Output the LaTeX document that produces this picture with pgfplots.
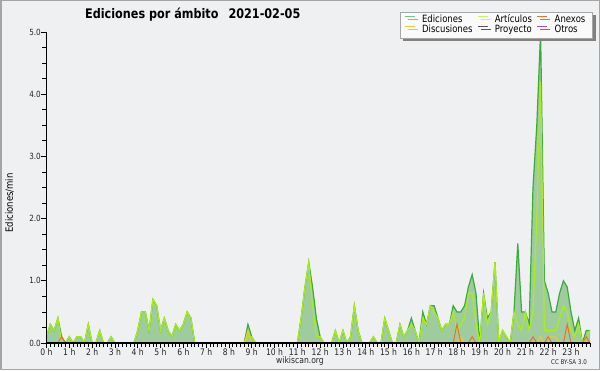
\documentclass[border=0pt]{standalone}
\usepackage{fontspec}
\setmainfont{DejaVu Sans}[FakeStretch=0.85]
\usepackage{pgfplots}
\pgfplotsset{compat=1.18}
\usepackage{pgfplotstable}
\usetikzlibrary{shadows}

\definecolor{bgc}{RGB}{239,240,242}
\definecolor{bordc}{RGB}{165,165,165}
\definecolor{gridc}{RGB}{200,200,200}
\definecolor{eline}{RGB}{60,170,60}
\definecolor{efill}{RGB}{158,204,158}
\definecolor{aline}{RGB}{170,238,20}
\definecolor{xline}{RGB}{240,110,40}
\definecolor{dline}{RGB}{245,200,40}
\definecolor{pline}{RGB}{90,90,90}
\definecolor{oline}{RGB}{150,80,230}
\definecolor{legE}{RGB}{120,200,120}
\definecolor{legA}{RGB}{200,240,100}

\pgfplotsset{
 layers/mylayers/.define layer set={axis background,axis grid,pre main,main,axis ticks,axis lines,axis tick labels,axis descriptions,axis foreground}{
   grid style={/pgfplots/on layer=axis grid},
   tick style={/pgfplots/on layer=axis ticks},
   axis line style={/pgfplots/on layer=axis lines},
   label style={/pgfplots/on layer=axis descriptions},
   legend style={/pgfplots/on layer=axis descriptions},
   title style={/pgfplots/on layer=axis descriptions},
   ticklabel style={/pgfplots/on layer=axis tick labels},
 },
}

\pgfplotstableread{
j E A X D
0 0.1 0.1 0 0
1 0.3 0.3 0 0
2 0.2 0.2 0 0
3 0.4 0.4 0 0
4 0.1 0.0 0.1 0
5 0 0 0 0
6 0.1 0.1 0 0
7 0 0 0 0
8 0.1 0.1 0 0
9 0.1 0.1 0 0
10 0 0 0 0
11 0.3 0.3 0 0
12 0 0 0 0
13 0 0 0 0
14 0.2 0.2 0 0
15 0 0 0 0
16 0 0 0 0
17 0.1 0.1 0 0
18 0 0 0 0
19 0 0 0 0
20 0 0 0 0
21 0 0 0 0
22 0 0 0 0
23 0 0 0 0
24 0.2 0.2 0 0
25 0.5 0.5 0 0
26 0.5 0.5 0 0
27 0.2 0.2 0 0
28 0.7 0.7 0 0
29 0.6 0.6 0 0
30 0.2 0.2 0 0
31 0.4 0.4 0 0
32 0.2 0.2 0 0
33 0.1 0.1 0 0
34 0.3 0.3 0 0
35 0.2 0.2 0 0
36 0.3 0.3 0 0
37 0.5 0.5 0 0
38 0.4 0.4 0 0
39 0 0 0 0
40 0 0 0 0
41 0 0 0 0
42 0 0 0 0
43 0 0 0 0
44 0 0 0 0
45 0 0 0 0
46 0 0 0 0
47 0 0 0 0
48 0 0 0 0
49 0 0 0 0
50 0 0 0 0
51 0 0 0 0
52 0 0 0 0
53 0.3 0.1 0 0.2
54 0.1 0.1 0 0
55 0 0 0 0
56 0 0 0 0
57 0 0 0 0
58 0 0 0 0
59 0 0 0 0
60 0 0 0 0
61 0 0 0 0
62 0 0 0 0
63 0 0 0 0
64 0 0 0 0
65 0 0 0 0
66 0 0 0 0
67 0.4 0.4 0 0
68 0.9 0.9 0 0
69 1.3 1.3 0 0
70 0.9 0.6 0 0
71 0.4 0.1 0 0
72 0.1 0.1 0 0
73 0 0 0 0
74 0 0 0 0
75 0 0 0 0
76 0.2 0.2 0 0
77 0 0 0 0
78 0.2 0.2 0 0
79 0 0 0 0
80 0.1 0.1 0 0
81 0.6 0.6 0 0
82 0.2 0.2 0 0
83 0 0 0 0
84 0 0 0 0
85 0 0 0 0
86 0.1 0.1 0 0
87 0 0 0 0
88 0 0 0 0
89 0.4 0.4 0 0
90 0.2 0.2 0 0
91 0 0 0 0
92 0 0 0 0
93 0.3 0.3 0 0
94 0.1 0.1 0 0
95 0.2 0.2 0 0
96 0.4 0.3 0 0
97 0.2 0.2 0 0
98 0 0 0 0
99 0.5 0.4 0 0
100 0.3 0.3 0 0
101 0.6 0.6 0 0
102 0.6 0.5 0 0
103 0.4 0.4 0 0
104 0.2 0.2 0 0
105 0.3 0.3 0 0
106 0.3 0.3 0 0
107 0.6 0.5 0 0
108 0.5 0.2 0.3 0
109 0.5 0.3 0 0.1
110 0.6 0.4 0 0
111 0.9 0.8 0 0
112 1.1 0.8 0.1 0
113 0.8 0.3 0 0
114 0 0 0 0
115 0.8 0.8 0 0
116 0.4 0.3 0 0
117 0.5 0.5 0 0
118 1.3 1.3 0 0
119 0 0 0 0
120 0.2 0.2 0 0
121 0.1 0.1 0 0
122 0 0 0 0
123 0.5 0.5 0 0
124 1.6 0.3 0 0
125 0.5 0.2 0 0
126 0.5 0.5 0 0
127 0.3 0.2 0 0
128 2.5 0.5 0.1 0
129 3.5 2.0 0 0
130 5.0 4.2 0 0.1
131 1.0 0.2 0 0
132 0.8 0.2 0.1 0.1
133 0.5 0.2 0 0.1
134 0.5 0.2 0 0.1
135 0.8 0.4 0 0
136 1.0 0.6 0 0
137 0.9 0.5 0.3 0
138 0.5 0.2 0 0
139 0.2 0.1 0 0
140 0.4 0.3 0 0
141 0 0 0 0
142 0.2 0.1 0.1 0
143 0.2 0.2 0 0
}\data

\begin{document}
\begin{tikzpicture}
\fill[bgc] (0pt,0pt) rectangle (600pt,370pt);
\draw[bordc, line width=1.5pt] (0.75pt,0.75pt) rectangle (599.25pt,369.25pt);
\begin{axis}[
  set layers=mylayers,
  at={(46.5pt,27pt)}, anchor=south west,
  scale only axis, width=543.5pt, height=311pt,
  xmin=0, xmax=143, ymin=0, ymax=5,
  clip=false,
  axis x line*=bottom, axis y line*=left,
  axis line style={black, line width=1.1pt},
  ymajorgrids, grid style={gridc, line width=0.7pt},
  xtick={0,6,...,138},
  xticklabels={0 h,1 h,2 h,3 h,4 h,5 h,6 h,7 h,8 h,9 h,10 h,11 h,12 h,13 h,14 h,15 h,16 h,17 h,18 h,19 h,20 h,21 h,22 h,23 h},
  minor xtick={0,1,...,143},
  ytick={0,1,2,3,4,5},
  yticklabels={0.0,1.0,2.0,3.0,4.0,5.0},
  minor ytick={0.25,0.5,0.75,1.25,1.5,1.75,2.25,2.5,2.75,3.25,3.5,3.75,4.25,4.5,4.75},
  tick align=outside,
  tick style={black, line width=0.8pt},
  major tick length=5pt, minor tick length=4pt,
  xticklabel style={font=\fontsize{9}{9}\selectfont, inner sep=0pt, text=black!85},
  yticklabel style={font=\fontsize{8.5}{8.5}\selectfont, inner sep=0pt, xshift=-0.5pt, text=black!85},
  legend columns=3,
  legend image code/.code={\draw[#1] (0pt,3.5pt) -- (10pt,3.5pt);},
  legend style={
    at={(rel axis cs:1,1)}, anchor=north east, xshift=3pt, yshift=20.3pt,
    fill=white!98!black, draw=black!35, line width=0.6pt,
    inner xsep=4pt, inner ysep=3pt, row sep=0.3pt,
    font=\fontsize{10}{10}\selectfont,
    nodes={inner sep=0pt, text height=7.5pt, text depth=2.5pt},
    /tikz/every odd column/.append style={column sep=7pt},
    drop shadow={shadow xshift=3pt, shadow yshift=-3pt, fill=black!50, opacity=1},
  },
]
\addplot[fill=efill, draw=none, forget plot] table[x=j,y=E] {\data} \closedcycle;
\addplot[eline, line width=1.2pt, forget plot] table[x=j,y=E] {\data};
\addplot[aline, line width=1.2pt, forget plot] table[x=j,y=A] {\data};
\addplot[dline, line width=1.0pt, forget plot] table[x=j,y=D] {\data};
\addplot[xline, line width=1.0pt, forget plot] table[x=j,y=X] {\data};

\addlegendimage{legE, line width=0.8pt}
\addlegendentry{\makebox[55pt][l]{Ediciones}}
\addlegendimage{legA, line width=0.8pt}
\addlegendentry{\makebox[42pt][l]{Artículos}}
\addlegendimage{xline, line width=0.8pt}
\addlegendentry{\makebox[34pt][l]{Anexos}}
\addlegendimage{dline, line width=0.8pt}
\addlegendentry{\makebox[55pt][l]{Discusiones}}
\addlegendimage{pline, line width=0.8pt}
\addlegendentry{\makebox[42pt][l]{Proyecto}}
\addlegendimage{oline, line width=0.8pt}
\addlegendentry{\makebox[34pt][l]{Otros}}
\end{axis}
\node[anchor=base west, font=\fontsize{13.2}{13.2}\selectfont\bfseries, inner sep=0pt] at (85pt,351.7pt) {Ediciones por ámbito\hspace{10pt}2021-02-05};
\node[rotate=90, font=\fontsize{10}{10}\selectfont, inner sep=0pt] at (9.5pt,167pt) {Ediciones/min};
\node[font=\fontsize{9}{9}\selectfont, inner sep=0pt, text=black!85] at (300pt,9pt) {wikiscan.org};
\node[font=\fontsize{6.5}{6.5}\selectfont, inner sep=0pt, text=black!85] at (569pt,7.5pt) {CC BY-SA 3.0};
\end{tikzpicture}
\end{document}
